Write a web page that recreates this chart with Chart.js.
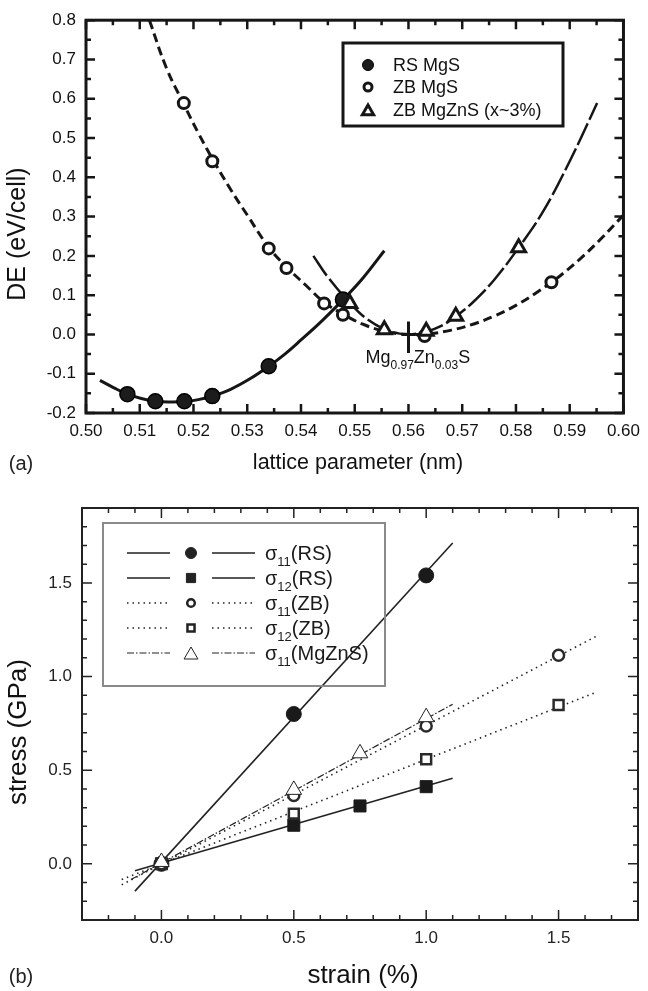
<!DOCTYPE html>
<html lang="en">
<head>
<meta charset="utf-8">
<title>MgS energy and stress</title>
<style>
  body { margin: 0; background: #fff; overflow: hidden; }
  #wrap { position: relative; width: 648px; height: 991px; }
  canvas { position: absolute; left: 0; }
</style>
</head>
<body>
<div id="wrap">
  <canvas id="chartA" width="648" height="480" style="top:0px"></canvas>
  <canvas id="chartB" width="648" height="511" style="top:480px"></canvas>
</div>

<script src="https://cdn.jsdelivr.net/npm/chart.js"></script>
<script>
const FONT = '"Liberation Sans", Arial, Helvetica, sans-serif';

// ===== (a) energy vs lattice parameter =====
const rsA = [0.5077, 0.5129, 0.5183, 0.5235, 0.5340, 0.5478];
const rsE = [-0.152, -0.170, -0.170, -0.157, -0.081, 0.089];
const zbA = [0.5182, 0.5235, 0.5340, 0.5373, 0.5443, 0.5478, 0.5630, 0.5866];
const zbE = [0.589, 0.441, 0.219, 0.169, 0.079, 0.050, -0.004, 0.133];
const mzA = [0.5491, 0.5555, 0.5633, 0.5688, 0.5805];
const mzE = [0.079, 0.012, 0.008, 0.046, 0.221];

// fitted curves
const rsFitA = [0.5026, 0.5052, 0.5077, 0.5103, 0.5129, 0.5156, 0.5183, 0.5209, 0.5235, 0.5270, 0.5305, 0.5340, 0.5370, 0.5400, 0.5440, 0.5478, 0.5515, 0.5555];
const rsFitE = [-0.117, -0.136, -0.152, -0.163, -0.170, -0.172, -0.171, -0.166, -0.157, -0.139, -0.113, -0.081, -0.050, -0.014, 0.036, 0.088, 0.143, 0.213];
const zbFitA = [0.5118, 0.5150, 0.5181, 0.5210, 0.5240, 0.5270, 0.5300, 0.5340, 0.5373, 0.5410, 0.5443, 0.5478, 0.5515, 0.5550, 0.5580, 0.5605, 0.5640, 0.5680, 0.5720, 0.5760, 0.5800, 0.5840, 0.5880, 0.5920, 0.5960, 0.6000];
const zbFitE = [0.800, 0.677, 0.589, 0.510, 0.436, 0.367, 0.304, 0.222, 0.172, 0.124, 0.082, 0.052, 0.026, 0.010, 0.002, 0.000, 0.002, 0.011, 0.026, 0.047, 0.074, 0.108, 0.147, 0.193, 0.246, 0.304];
const mzFitA = [0.5423, 0.5450, 0.5491, 0.5520, 0.5555, 0.5580, 0.5600, 0.5633, 0.5660, 0.5688, 0.5720, 0.5760, 0.5805, 0.5850, 0.5900, 0.5951];
const mzFitE = [0.200, 0.146, 0.080, 0.042, 0.013, 0.003, 0.000, 0.007, 0.021, 0.046, 0.082, 0.140, 0.221, 0.312, 0.441, 0.589];

// Mg0.97Zn0.03S marker cross
const crossVA = [0.560, 0.560];
const crossVE = [0.033, -0.047];
const crossHA = [0.5587, 0.5613];
const crossHE = [0.000, 0.000];

const xTicksA = [0.50, 0.51, 0.52, 0.53, 0.54, 0.55, 0.56, 0.57, 0.58, 0.59, 0.60];
const yTicksA = [-0.2, -0.1, 0.0, 0.1, 0.2, 0.3, 0.4, 0.5, 0.6, 0.7, 0.8];
const namesA = ['RS MgS', 'ZB MgS', 'ZB MgZnS (x~3%)'];

// ===== (b) stress vs strain =====
const s11rsX = [0.0, 0.5, 1.0];
const s11rsY = [0.0, 0.80, 1.54];
const s12rsX = [0.0, 0.5, 0.75, 1.0];
const s12rsY = [0.0, 0.206, 0.309, 0.412];
const s11zbX = [0.0, 0.5, 1.0, 1.5];
const s11zbY = [0.0, 0.365, 0.736, 1.114];
const s12zbX = [0.0, 0.5, 1.0, 1.5];
const s12zbY = [0.0, 0.268, 0.558, 0.848];
const s11mzX = [0.0, 0.5, 0.75, 1.0];
const s11mzY = [0.01, 0.395, 0.59, 0.783];

// linear fits (end points as drawn)
const fit11rsX = [-0.10, 1.10];
const fit11rsY = [-0.146, 1.713];
const fit12rsX = [-0.10, 1.10];
const fit12rsY = [-0.037, 0.457];
const fit11zbX = [-0.15, 1.645];
const fit11zbY = [-0.112, 1.217];
const fit12zbX = [-0.15, 1.645];
const fit12zbY = [-0.084, 0.918];
const fit11mzX = [-0.115, 1.10];
const fit11mzY = [-0.084, 0.852];

const xTicksB = [0.0, 0.5, 1.0, 1.5];
const yTicksB = [0.0, 0.5, 1.0, 1.5];
const legSub  = ['11', '12', '11', '12', '11'];
const legTail = ['(RS)', '(RS)', '(ZB)', '(ZB)', '(MgZnS)'];

function pts(xs, ys) { return xs.map((x, i) => ({x: x, y: ys[i]})); }

function marker(ctx, shape, x, y, r, fill, stroke, bw) {
  ctx.save();
  ctx.beginPath();
  if (shape === 'circle') {
    ctx.arc(x, y, r, 0, Math.PI * 2);
  } else if (shape === 'rect') {
    const s = r * Math.SQRT1_2;
    ctx.rect(x - s, y - s, 2 * s, 2 * s);
  } else {
    ctx.moveTo(x, y - r);
    ctx.lineTo(x + r * 0.866, y + r / 2);
    ctx.lineTo(x - r * 0.866, y + r / 2);
    ctx.closePath();
  }
  ctx.fillStyle = fill;
  ctx.fill();
  if (bw > 0) { ctx.lineWidth = bw; ctx.strokeStyle = stroke; ctx.stroke(); }
  ctx.restore();
}

// parts: [text, size, dy]
function richText(ctx, parts, x, y, color) {
  ctx.save();
  ctx.fillStyle = color;
  ctx.textBaseline = 'alphabetic';
  ctx.textAlign = 'left';
  for (const p of parts) {
    ctx.font = p[1] + 'px ' + FONT;
    ctx.fillText(p[0], x, y + p[2]);
    x += ctx.measureText(p[0]).width;
  }
  ctx.restore();
}

// inward ticks on all four sides + box
const framePlugin = {
  id: 'frame',
  afterDraw(chart, args, o) {
    const ctx = chart.ctx, a = chart.chartArea;
    const sx = chart.scales.x, sy = chart.scales.y;
    ctx.save();
    ctx.strokeStyle = o.color;
    ctx.lineWidth = o.tickWidth;
    ctx.beginPath();
    const nx = Math.round((sx.max - sx.min) / o.xMinor);
    for (let i = 0; i <= nx; i++) {
      const v = sx.min + i * o.xMinor;
      const q = v / o.xMajor;
      const len = Math.abs(q - Math.round(q)) < 1e-6 ? o.major : o.minor;
      const p = sx.getPixelForValue(v);
      ctx.moveTo(p, a.bottom); ctx.lineTo(p, a.bottom - len);
      ctx.moveTo(p, a.top); ctx.lineTo(p, a.top + len);
    }
    const ny = Math.round((sy.max - sy.min) / o.yMinor);
    for (let i = 0; i <= ny; i++) {
      const v = sy.min + i * o.yMinor;
      const q = v / o.yMajor;
      const len = Math.abs(q - Math.round(q)) < 1e-6 ? o.major : o.minor;
      const p = sy.getPixelForValue(v);
      ctx.moveTo(a.left, p); ctx.lineTo(a.left + len, p);
      ctx.moveTo(a.right, p); ctx.lineTo(a.right - len, p);
    }
    ctx.stroke();
    ctx.lineWidth = o.frameWidth;
    ctx.strokeRect(a.left, a.top, a.right - a.left, a.bottom - a.top);
    ctx.restore();
    if (o.extra) o.extra(chart);
  }
};

function rotText(ctx, txt, x, y, size, color) {
  ctx.save();
  ctx.translate(x, y);
  ctx.rotate(-Math.PI / 2);
  ctx.font = size + 'px ' + FONT;
  ctx.fillStyle = color;
  ctx.textAlign = 'center';
  ctx.textBaseline = 'middle';
  ctx.fillText(txt, 0, 0);
  ctx.restore();
}
function plainText(ctx, txt, x, y, size, color) {
  ctx.save();
  ctx.font = size + 'px ' + FONT;
  ctx.fillStyle = color;
  ctx.textAlign = 'center';
  ctx.textBaseline = 'middle';
  ctx.fillText(txt, x, y);
  ctx.restore();
}

const K = '#161616';

// ---------- chart (a) ----------
new Chart(document.getElementById('chartA'), {
  type: 'scatter',
  data: {
    datasets: [
      { data: pts(rsFitA, rsFitE), showLine: true, tension: 0.4, pointRadius: 0, borderColor: K, borderWidth: 3, order: 5 },
      { data: pts(zbFitA, zbFitE), showLine: true, tension: 0.4, pointRadius: 0, borderColor: K, borderWidth: 3, borderDash: [9, 5], order: 5 },
      { data: pts(mzFitA, mzFitE), showLine: true, tension: 0.4, pointRadius: 0, borderColor: K, borderWidth: 2.5, borderDash: [24, 4], order: 5 },
      { data: pts(crossVA, crossVE), showLine: true, pointRadius: 0, borderColor: K, borderWidth: 3, order: 4 },
      { data: pts(crossHA, crossHE), showLine: true, pointRadius: 0, borderColor: K, borderWidth: 3, order: 4 },
      { data: pts(zbA, zbE), pointStyle: 'circle', pointRadius: 5.5, pointBackgroundColor: '#fff', pointBorderColor: K, pointBorderWidth: 3, order: 3 },
      { data: pts(rsA, rsE), pointStyle: 'circle', pointRadius: 7.5, pointBackgroundColor: '#1c1c1c', pointBorderColor: '#000', pointBorderWidth: 1.5, order: 2 },
      { data: pts(mzA, mzE), pointStyle: 'triangle', pointRadius: 8, pointBackgroundColor: '#fff', pointBorderColor: K, pointBorderWidth: 3, order: 1 }
    ]
  },
  options: {
    responsive: false,
    animation: false,
    layout: { padding: { top: 14, right: 18, left: 0, bottom: 0 } },
    plugins: {
      legend: { display: false },
      tooltip: { enabled: false },
      frame: {
        color: K, tickWidth: 2.5, frameWidth: 3, major: 9, minor: 5,
        xMinor: 0.005, xMajor: 0.01, yMinor: 0.05, yMajor: 0.1,
        extra: (chart) => {
          const ctx = chart.ctx;
          rotText(ctx, 'DE (eV/cell)', 18, 234, 25, '#111');
          plainText(ctx, 'lattice parameter (nm)', 358, 463, 21.5, '#111');
          plainText(ctx, '(a)', 21, 464, 20, '#222');
          // composition label under the cross
          const px = chart.scales.x.getPixelForValue(crossVA[0]);
          richText(ctx, [['Mg', 18, 0], ['0.97', 12, 6], ['Zn', 18, 0], ['0.03', 12, 6], ['S', 18, 0]], px - 43, 363, '#111');
          // legend
          ctx.save();
          ctx.lineWidth = 3; ctx.strokeStyle = K;
          ctx.strokeRect(343, 43, 220, 83);
          ctx.restore();
          const rows = [65, 87, 110];
          marker(ctx, 'circle', 368, rows[0], 5.5, '#1c1c1c', '#000', 1);
          marker(ctx, 'circle', 368, rows[1], 4, '#fff', K, 3);
          marker(ctx, 'triangle', 368, rows[2] + 1.5, 6.5, '#fff', K, 3);
          ctx.save();
          ctx.font = '18px ' + FONT; ctx.fillStyle = '#111';
          ctx.textAlign = 'left'; ctx.textBaseline = 'middle';
          namesA.forEach((n, i) => ctx.fillText(n, 393, rows[i] + 1));
          ctx.restore();
        }
      }
    },
    scales: {
      x: {
        type: 'linear', min: 0.50, max: 0.60,
        afterFit: (s) => { s.height = 67; },
        afterBuildTicks: (s) => { s.ticks = xTicksA.map(v => ({value: v})); },
        grid: { display: false, drawTicks: false },
        border: { display: false },
        ticks: { padding: 8, autoSkip: false, maxRotation: 0, color: '#111', font: { family: FONT, size: 17 },
          callback: (v) => Number(v).toFixed(2) }
      },
      y: {
        type: 'linear', min: -0.2, max: 0.8,
        afterFit: (s) => { s.width = 86; },
        afterBuildTicks: (s) => { s.ticks = yTicksA.map(v => ({value: v})); },
        grid: { display: false, drawTicks: false },
        border: { display: false },
        ticks: { padding: 10, autoSkip: false, color: '#111', font: { family: FONT, size: 17 },
          callback: (v) => Number(v).toFixed(1) }
      }
    }
  },
  plugins: [framePlugin]
});

// ---------- chart (b) ----------
const G = '#222';
const lineStyles = [
  { dash: [], w: 1.6 },
  { dash: [], w: 1.6 },
  { dash: [1.5, 4], w: 1.6 },
  { dash: [1.5, 4], w: 1.6 },
  { dash: [7, 2, 1.5, 2], w: 1.2 }
];
const markStyles = [
  { shape: 'circle', r: 5.5, fill: G, bw: 1 },
  { shape: 'rect', r: 6.5, fill: G, bw: 1 },
  { shape: 'circle', r: 3.8, fill: '#fff', bw: 2.5 },
  { shape: 'rect', r: 5, fill: '#fff', bw: 2.5 },
  { shape: 'triangle', r: 8, fill: '#fff', bw: 1 }
];

new Chart(document.getElementById('chartB'), {
  type: 'scatter',
  data: {
    datasets: [
      { data: pts(fit11rsX, fit11rsY), showLine: true, pointRadius: 0, borderColor: G, borderWidth: 1.6, order: 5 },
      { data: pts(fit12rsX, fit12rsY), showLine: true, pointRadius: 0, borderColor: G, borderWidth: 1.6, order: 5 },
      { data: pts(fit11zbX, fit11zbY), showLine: true, pointRadius: 0, borderColor: G, borderWidth: 1.6, borderDash: [1.5, 4], order: 5 },
      { data: pts(fit12zbX, fit12zbY), showLine: true, pointRadius: 0, borderColor: G, borderWidth: 1.6, borderDash: [1.5, 4], order: 5 },
      { data: pts(fit11mzX, fit11mzY), showLine: true, pointRadius: 0, borderColor: G, borderWidth: 1.2, borderDash: [7, 2, 1.5, 2], order: 5 },
      { data: pts(s11rsX, s11rsY), pointStyle: 'circle', pointRadius: 7.5, pointBackgroundColor: '#1a1a1a', pointBorderColor: '#1a1a1a', pointBorderWidth: 1, order: 3 },
      { data: pts(s12rsX, s12rsY), pointStyle: 'rect', pointRadius: 8.5, pointBackgroundColor: '#1a1a1a', pointBorderColor: '#1a1a1a', pointBorderWidth: 1, order: 3 },
      { data: pts(s11zbX, s11zbY), pointStyle: 'circle', pointRadius: 5.5, pointBackgroundColor: '#fff', pointBorderColor: '#2a2a2a', pointBorderWidth: 2.5, order: 2 },
      { data: pts(s12zbX, s12zbY), pointStyle: 'rect', pointRadius: 7, pointBackgroundColor: '#fff', pointBorderColor: '#2a2a2a', pointBorderWidth: 2.5, order: 2 },
      { data: pts(s11mzX, s11mzY), pointStyle: 'triangle', pointRadius: 9, pointBackgroundColor: '#fff', pointBorderColor: G, pointBorderWidth: 1, order: 1 }
    ]
  },
  options: {
    responsive: false,
    animation: false,
    layout: { padding: { top: 28, right: 4, left: 0, bottom: 0 } },
    plugins: {
      legend: { display: false },
      tooltip: { enabled: false },
      frame: {
        color: G, tickWidth: 1.5, frameWidth: 2, major: 10, minor: 5,
        xMinor: 0.1, xMajor: 0.5, yMinor: 0.1, yMajor: 0.5,
        extra: (chart) => {
          const ctx = chart.ctx;
          rotText(ctx, 'stress (GPa)', 19, 252, 26, '#111');
          plainText(ctx, 'strain (%)', 363, 496, 26, '#111');
          plainText(ctx, '(b)', 21, 497, 20, '#222');
          // legend
          ctx.save();
          ctx.lineWidth = 2; ctx.strokeStyle = '#8a8a8a';
          ctx.strokeRect(103, 43, 282, 163);
          ctx.restore();
          const rows = [73, 98, 123, 148, 173];
          rows.forEach((ry, i) => {
            const ls = lineStyles[i], ms = markStyles[i];
            ctx.save();
            ctx.strokeStyle = G; ctx.lineWidth = ls.w; ctx.setLineDash(ls.dash);
            ctx.beginPath();
            ctx.moveTo(127, ry); ctx.lineTo(170, ry);
            ctx.moveTo(212, ry); ctx.lineTo(255, ry);
            ctx.stroke();
            ctx.restore();
            marker(ctx, ms.shape, 191, ms.shape === 'triangle' ? ry + 2 : ry, ms.r, ms.fill, G, ms.bw);
            richText(ctx, [['σ', 20, 0], [legSub[i], 13, 6], [legTail[i], 20, 0]], 265, ry + 7, '#1a1a1a');
          });
        }
      }
    },
    scales: {
      x: {
        type: 'linear', min: -0.3, max: 1.8,
        afterFit: (s) => { s.height = 71; },
        afterBuildTicks: (s) => { s.ticks = xTicksB.map(v => ({value: v})); },
        grid: { display: false, drawTicks: false },
        border: { display: false },
        ticks: { padding: 8, autoSkip: false, maxRotation: 0, color: '#222', font: { family: FONT, size: 17 },
          callback: (v) => Number(v).toFixed(1) }
      },
      y: {
        type: 'linear', min: -0.3, max: 1.9,
        afterFit: (s) => { s.width = 82; },
        afterBuildTicks: (s) => { s.ticks = yTicksB.map(v => ({value: v})); },
        grid: { display: false, drawTicks: false },
        border: { display: false },
        ticks: { padding: 10, autoSkip: false, color: '#222', font: { family: FONT, size: 17 },
          callback: (v) => Number(v).toFixed(1) }
      }
    }
  },
  plugins: [framePlugin]
});
</script>
</body>
</html>
